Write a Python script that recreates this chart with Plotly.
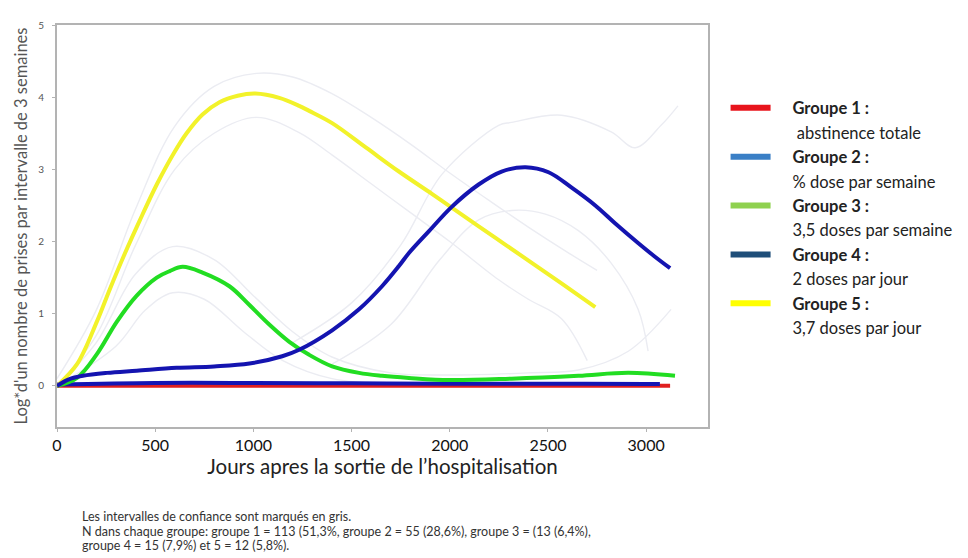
import plotly.graph_objects as go

# ---------------- data ----------------
g5_x = [0, 102, 203, 269, 340, 421, 508, 594, 660, 741, 827, 920, 1010, 1132, 1233, 1284, 1401, 1574, 1741, 1909, 2010, 2233, 2436, 2569, 2741]
g5_y = [0, 0.3, 0.89, 1.34, 1.8, 2.29, 2.79, 3.22, 3.5, 3.76, 3.93, 4.02, 4.05, 3.99, 3.88, 3.81, 3.64, 3.3, 2.97, 2.66, 2.47, 2.05, 1.67, 1.42, 1.09]

g3_x = [0, 102, 203, 305, 406, 508, 574, 640, 741, 878, 980, 1081, 1183, 1284, 1401, 1538, 1655, 1792, 2000, 2315, 2655, 2909, 3147]
g3_y = [0, 0.11, 0.44, 0.89, 1.25, 1.5, 1.59, 1.65, 1.57, 1.38, 1.12, 0.85, 0.61, 0.43, 0.27, 0.18, 0.14, 0.11, 0.08, 0.1, 0.14, 0.18, 0.14]

g4_x = [0, 60, 132, 254, 406, 609, 800, 980, 1147, 1233, 1401, 1538, 1655, 1741, 1792, 1893, 2010, 2147, 2264, 2386, 2503, 2619, 2741, 2843, 2959, 3040, 3122]
g4_y = [0, 0.09, 0.14, 0.18, 0.21, 0.25, 0.27, 0.31, 0.41, 0.5, 0.77, 1.06, 1.38, 1.66, 1.84, 2.14, 2.48, 2.79, 2.97, 3.03, 2.96, 2.75, 2.5, 2.25, 1.98, 1.8, 1.63]

g1_x = [0, 500, 1000, 1500, 2000, 2500, 3000, 3122]
g1_y = [0, 0, 0, 0, 0, 0, 0, 0]

g2_x = [0, 500, 1000, 1500, 2000, 2500, 3000, 3070]
g2_y = [0.02, 0.04, 0.04, 0.035, 0.03, 0.03, 0.025, 0.025]

# confidence intervals (faint grey)
g5_up_x = [0, 200, 400, 600, 800, 1015, 1200, 1400, 1600, 1800, 2000, 2200, 2400, 2600, 2750]
g5_up_y = [0.1, 1.05, 2.45, 3.6, 4.15, 4.33, 4.28, 4.05, 3.72, 3.35, 2.95, 2.57, 2.2, 1.85, 1.6]
g5_lo_x = [0, 200, 400, 600, 800, 1015, 1233, 1400, 1600, 1800, 2000, 2249, 2400, 2569, 2700]
g5_lo_y = [0, 0.7, 1.95, 3.0, 3.5, 3.72, 3.51, 3.2, 2.8, 2.4, 2.0, 1.47, 1.2, 0.93, 0.35]

g3_up_x = [0, 200, 400, 589, 800, 1000, 1200, 1400, 1700, 2000, 2400, 2655, 2909, 3127]
g3_up_y = [0, 0.6, 1.55, 1.93, 1.75, 1.25, 0.75, 0.4, 0.18, 0.15, 0.18, 0.22, 0.48, 1.06]
g3_lo_x = [0, 300, 450, 589, 750, 950, 1150, 1400, 1700]
g3_lo_y = [0, 0.55, 1.05, 1.29, 1.2, 0.75, 0.35, 0.1, 0.03]

g4_up_x = [1200, 1500, 1750, 1960, 2249, 2315, 2569, 2822, 2944, 3076, 3162]
g4_up_y = [0.6, 1.15, 1.95, 2.93, 3.61, 3.65, 3.75, 3.52, 3.3, 3.61, 3.88]
g4_lo_x = [1400, 1700, 1950, 2147, 2315, 2487, 2655, 2822, 2959, 3010]
g4_lo_y = [0.3, 0.85, 1.75, 2.3, 2.43, 2.38, 2.15, 1.7, 1.06, 0.48]

legend_names = ["<b>Groupe 1 :</b>", "\u00a0abstinence totale",
                "<b>Groupe 2 :</b>", "% dose par semaine",
                "<b>Groupe 3 :</b>", "3,5 doses par semaine",
                "<b>Groupe 4 :</b>", "2 doses par jour",
                "<b>Groupe 5 :</b>", "3,7 doses par jour"]
legend_colors = ["#e8141c", "rgba(0,0,0,0)", "#3a7fc6", "rgba(0,0,0,0)",
                 "#8fd14f", "rgba(0,0,0,0)", "#1f4e79", "rgba(0,0,0,0)",
                 "#ffff00", "rgba(0,0,0,0)"]

footnote = ["Les intervalles de confiance sont marqués en gris.",
            "N dans chaque groupe: groupe 1 = 113 (51,3%, groupe 2 = 55 (28,6%), groupe 3 = (13 (6,4%),",
            "groupe 4 = 15 (7,9%) et 5 = 12 (5,8%)."]

# ---------------- figure ----------------
fig = go.Figure()

ci_color = "#ebecf2"
for cx, cy in [(g5_up_x, g5_up_y), (g5_lo_x, g5_lo_y), (g3_up_x, g3_up_y),
               (g3_lo_x, g3_lo_y), (g4_up_x, g4_up_y), (g4_lo_x, g4_lo_y)]:
    fig.add_trace(go.Scatter(x=cx, y=cy, mode="lines", showlegend=False, hoverinfo="skip",
                             line=dict(color=ci_color, width=1.4, shape="spline", smoothing=1.0)))

main = [(g1_x, g1_y, "#e02020"), (g2_x, g2_y, "#1414b4"),
        (g3_x, g3_y, "#22dd22"), (g5_x, g5_y, "#f2f22a"), (g4_x, g4_y, "#1414b0")]
for mx, my, col in main:
    fig.add_trace(go.Scatter(x=mx, y=my, mode="lines", showlegend=False,
                             line=dict(color=col, width=4, shape="spline", smoothing=1.0)))

pad = "\u00a0" * 4
for i, (nm, col) in enumerate(zip(legend_names, legend_colors)):
    fig.add_trace(go.Scatter(x=[None], y=[None], mode="lines", name=pad + nm,
                             legendgroup="g%d" % i,
                             line=dict(color=col, width=6)))

for i, t in enumerate(footnote):
    fig.add_annotation(text=t, xref="paper", yref="paper",
                       x=0.035, y=-0.222 - i * 0.037, xanchor="left", yanchor="middle",
                       showarrow=False, font=dict(size=12.5, color="#333333", family="Lato"))

fig.update_layout(
    width=960, height=550,
    margin=dict(l=49, r=258, t=10, b=131),
    paper_bgcolor="white", plot_bgcolor="white",
    font=dict(family="Lato", color="#222222"),
    legend=dict(x=1.027, y=0.837, xanchor="left", yanchor="top",
                font=dict(size=16.5, color="#222222", family="Lato"),
                tracegroupgap=0, itemwidth=40, bgcolor="rgba(0,0,0,0)"),
    xaxis=dict(range=[0, 3315], tickvals=[0, 500, 1000, 1500, 2000, 2500, 3000],
               showgrid=False, zeroline=False, showline=True, mirror=True,
               linecolor="#b3b3b3", linewidth=2, ticks="outside", ticklen=3,
               tickcolor="#b3b3b3", tickfont=dict(size=16, color="#111111", family="Lato"),
               title=dict(text="Jours apres la sortie de l’hospitalisation",
                          font=dict(size=20.5, color="#222222", family="Lato"), standoff=6)),
    yaxis=dict(range=[-0.57, 5], tickvals=[0, 1, 2, 3, 4, 5],
               showgrid=False, zeroline=False, showline=True, mirror=True,
               linecolor="#b3b3b3", linewidth=2, ticks="outside", ticklen=3,
               ticklabelstandoff=6,
               tickcolor="#b3b3b3", tickfont=dict(size=10, color="#555555", family="Lato"),
               title=dict(text="Log*d'un nombre de prises par intervalle de 3 semaines",
                          font=dict(size=16.5, color="#555555", family="Lato"), standoff=6)),
)

fig.write_html("out.html")
